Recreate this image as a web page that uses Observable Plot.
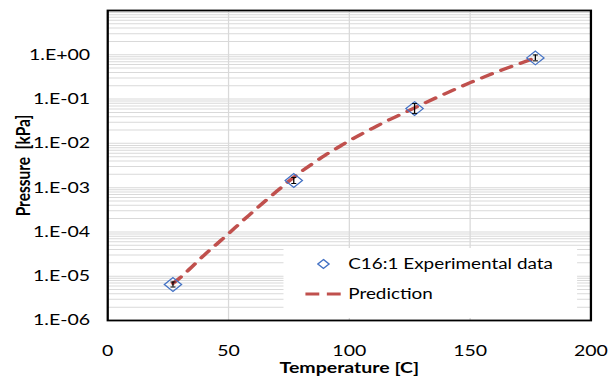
<!DOCTYPE html>
<html>
<head>
<meta charset="utf-8">
<script src="https://cdn.jsdelivr.net/npm/d3@7"></script>
<script src="https://cdn.jsdelivr.net/npm/@observablehq/plot@0.6"></script>
<style>
  html, body { margin: 0; padding: 0; background: #fff; }
  #wrap { position: relative; transform-origin: 0 0; }
  #legend { position: absolute; background: #fff; }
</style>
</head>
<body>
<div id="wrap"></div>
<script>
// ---- data ----
const expT    = [27, 77, 127, 177];
const expP    = [6.5e-6, 1.45e-3, 6.1e-2, 0.85];
const expLow  = [5.7e-6, 1.24e-3, 4.7e-2, 0.73];
const expHigh = [7.4e-6, 1.70e-3, 7.9e-2, 0.99];

const predT = [27, 30, 35, 40, 45, 50, 55, 60, 65, 70, 75, 80, 85, 90, 95, 100, 105, 110, 115, 120, 125, 130, 140, 150, 160, 170, 177];
const predP = [6.9e-6, 9.3e-6, 1.66e-5, 3.02e-5, 5.25e-5, 9.12e-5, 1.62e-4, 2.82e-4, 4.9e-4, 8.3e-4, 1.41e-3, 2.29e-3, 3.55e-3, 5.4e-3, 7.9e-3, 1.15e-2, 1.62e-2, 2.24e-2, 3.1e-2, 4.2e-2, 5.6e-2, 7.6e-2, 0.135, 0.234, 0.39, 0.62, 0.85];

const xTicks = [0, 50, 100, 150, 200];
const yTicks = [1e-6, 1e-5, 1e-4, 1e-3, 1e-2, 1e-1, 1];
const xGrid  = [50, 100, 150];
const seriesNames = ["C16:1 Experimental data", "Prediction"];
const xTitle = "Temperature [C]";
const yTitle = "Pressure  [kPa]";

// ---- tables ----
const exp = expT.map((t, i) => ({T: t, P: expP[i], lo: expLow[i], hi: expHigh[i]}));
const pred = predT.map((t, i) => ({T: t, P: predP[i]}));
const minorY = [];
for (let e = -6; e <= 0; e++) for (let k = 1; k <= 9; k++) minorY.push(Number((k * Math.pow(10, e)).toPrecision(3)));
minorY.push(10);

const fmt = d => {
  const e = Math.round(Math.log10(d));
  return "1.E" + (e < 0 ? "-" : "+") + String(Math.abs(e)).padStart(2, "0");
};

// horizontal cap symbol for error bars
const capSymbol = {
  draw(ctx, size) {
    const r = Math.sqrt(size / Math.PI);
    ctx.moveTo(-r, 0);
    ctx.lineTo(r, 0);
  }
};

// the reference image is horizontally stretched
const S = 1.26;
const W = 613 / S;

const blue = "#4472C4";
const red = "#C0504D";
const grid = "#d9d9d9";

const chart = Plot.plot({
  width: W,
  height: 381,
  marginLeft: 85,
  marginRight: 18,
  marginTop: 10,
  marginBottom: 61,
  style: {fontFamily: "Lato, sans-serif", fontSize: "15.5px", color: "#000", background: "#fff", overflow: "visible"},
  x: {domain: [0, 200], ticks: xTicks, tickSize: 0, tickPadding: 24, label: null},
  y: {type: "log", domain: [1e-6, 10], ticks: yTicks, tickFormat: fmt, tickSize: 0, tickPadding: 14, label: null},
  marks: [
    Plot.ruleY(minorY, {stroke: grid, strokeWidth: 1}),
    Plot.ruleX(xGrid, {stroke: grid, strokeWidth: 1}),
    Plot.line(pred, {x: "T", y: "P", stroke: red, strokeWidth: 3.2, strokeDasharray: "9,8", curve: "monotone-x"}),
    Plot.dot(exp, {x: "T", y: "P", symbol: "diamond2", r: 6.2, stroke: blue, fill: "none", strokeWidth: 1.1}),
    Plot.ruleX(exp, {x: "T", y1: "lo", y2: "hi", stroke: "#000", strokeWidth: 1}),
    Plot.dot(exp, {x: "T", y: "lo", symbol: capSymbol, r: 2, stroke: "#000", strokeWidth: 1}),
    Plot.dot(exp, {x: "T", y: "hi", symbol: capSymbol, r: 2, stroke: "#000", strokeWidth: 1}),
    Plot.frame({stroke: "#000", strokeWidth: 1.8}),
    Plot.text([yTitle], {text: d => d, frameAnchor: "left", dx: -67, rotate: -90, textAnchor: "middle", lineAnchor: "middle", fontWeight: "bold", fontSize: 15.5}),
    Plot.text([xTitle], {text: d => d, frameAnchor: "bottom", dy: 48, textAnchor: "middle", lineAnchor: "middle", fontWeight: "bold", fontSize: 15.5})
  ]
});

const wrap = document.getElementById("wrap");
wrap.style.width = W + "px";
wrap.style.transform = `scaleX(${S})`;
wrap.appendChild(chart);

// ---- legend ----
const lg = d3.select(wrap).append("div").attr("id", "legend")
  .style("left", "224.6px").style("top", "248px")
  .style("width", "233px").style("height", "70px");
const svg = lg.append("svg").attr("width", 233).attr("height", 70)
  .style("font-family", "Lato, sans-serif").style("font-size", "15px");
svg.append("path").attr("d", "M31.7,11.5L36.2,16L31.7,20.5L27.2,16Z")
  .attr("fill", "none").attr("stroke", blue).attr("stroke-width", 1.2);
svg.append("line").attr("x1", 17.4).attr("x2", 45.4).attr("y1", 46).attr("y2", 46)
  .attr("stroke", red).attr("stroke-width", 3.2).attr("stroke-dasharray", "11,6");
svg.selectAll("text").data(seriesNames).join("text")
  .attr("x", 51.4).attr("y", (d, i) => 16 + i * 30).attr("dy", "0.35em")
  .attr("fill", "#000").text(d => d);
</script>
</body>
</html>
